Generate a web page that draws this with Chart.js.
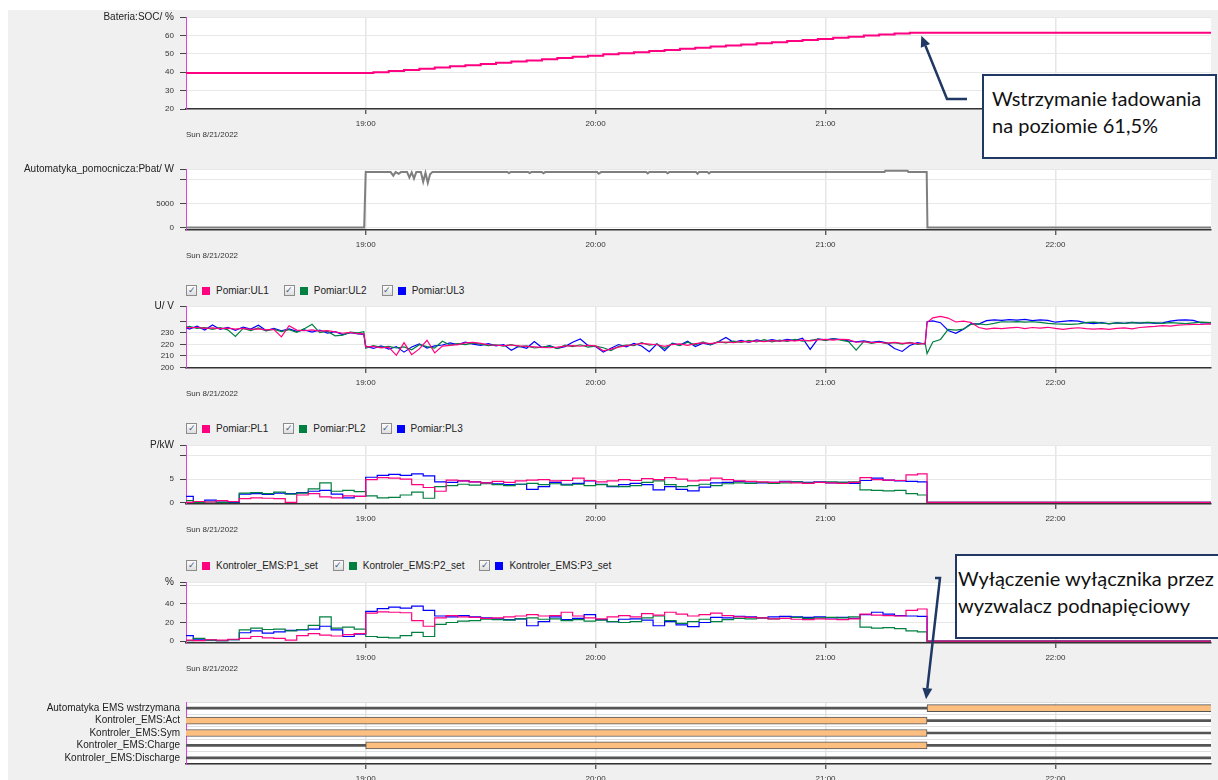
<!DOCTYPE html>
<html>
<head>
<meta charset="utf-8">
<script src="https://cdn.jsdelivr.net/npm/chart.js@4/dist/chart.umd.min.js"></script>
<style>
  body { margin: 0; width: 1218px; height: 780px; overflow: hidden; background: #fff; position: relative; font-family: 'Liberation Sans', Arial, sans-serif; }
  #panel { position: absolute; left: 8px; top: 10px; width: 1210px; height: 770px; background: #f0f0f0; }
  canvas.plot { position: absolute; left: 0; }
  .legend { position: absolute; left: 186px; display: flex; align-items: center; font-size: 10px; color: #222; white-space: nowrap; }
  .legend .cb { width: 9px; height: 9px; border: 1px solid #8c8c8c; background: linear-gradient(#fdfdfd, #dedede); color: #46598a; font-size: 9px; line-height: 9px; text-align: center; margin-right: 5px; }
  .legend .sq { width: 8px; height: 8px; margin-right: 6px; }
  .legend .name { margin-right: 15px; }
  #arrows { position: absolute; left: 0; top: 0; }
  .note { position: absolute; box-sizing: border-box; background: #fff; border: 2.5px solid #203864; font-family: Lato, 'Open Sans', sans-serif; font-size: 20px; line-height: 27px; color: #111; white-space: nowrap; }
  .note .just { text-align: justify; text-align-last: justify; }
</style>
</head>
<body>
<div id="panel"></div>
<script>
const FONT = "'Liberation Sans', Arial, sans-serif";
const seriesColors = ['#ff0080', '#008040', '#0000ff'];

// time axis, minutes after 18:00
const xMin = 13.1, xMax = 280.6;
const hourTicks = [60, 120, 180, 240];
const hourLabels = ['19:00', '20:00', '21:00', '22:00'];
const dateLabel = 'Sun 8/21/2022';

// Bateria:SOC
const socT = [13, 60, 62, 66, 70, 74, 78, 82, 86, 90, 94, 98, 102, 106, 110, 114, 118, 122, 126, 130, 134, 138,
  142, 146, 150, 154, 158, 162, 166, 170, 174, 178, 182, 186, 190, 194, 198, 202, 206, 281];
const socV = [39.6, 39.6, 40.0, 40.6, 41.2, 41.9, 42.5, 43.2, 43.8, 44.5, 45.1, 45.8, 46.4, 47.1, 47.7, 48.4, 49.0, 49.7, 50.3, 50.9, 51.5, 52.1,
  52.7, 53.3, 53.9, 54.5, 55.1, 55.7, 56.3, 56.9, 57.5, 58.1, 58.7, 59.3, 59.9, 60.5, 61.0, 61.5, 61.5, 61.5];
const socTicks = [20, 30, 40, 50, 60, 70];

// Automatyka_pomocnicza:Pbat
const pbT = [13, 59.6, 60, 66.5, 67.2, 67.8, 68.6, 69.2, 70.8, 71.4, 72.0, 72.6, 73.2, 74.4, 75.0, 75.6, 76.2, 76.8, 77.4,
  97.0, 97.4, 97.8, 102.4, 102.8, 103.2, 106.0, 106.4, 106.8, 120.4, 120.8, 121.4, 133.2, 133.6, 134.0,
  138.4, 138.8, 139.2, 146.2, 146.6, 147.0, 149.2, 149.6, 150.0, 195.4, 195.6, 201.4, 201.6, 206.4, 206.6, 281];
const pbV = [0, 0, 11650, 11650, 10900, 11650, 11300, 11650, 11650, 10500, 11600, 10300, 11650, 11650, 9600, 11500, 9400, 11200, 11650,
  11650, 11450, 11650, 11650, 11450, 11650, 11650, 11400, 11650, 11650, 11300, 11650, 11650, 11350, 11650,
  11650, 11400, 11650, 11650, 11300, 11650, 11650, 11350, 11650, 11650, 11950, 11950, 11650, 11650, 0, 0];
const pbTicks = [0, 5000, 10000, 12300];

// Pomiar:UL1..UL3
const uT = [12, 14, 16, 18, 20, 22, 24, 26, 28, 30, 32, 34, 36, 38, 40, 42, 44, 46, 48, 50, 52, 54, 56, 58, 59.5,
  60, 62, 64, 66, 68, 70, 72, 74, 76, 78,
  80, 82, 84, 86, 88, 90, 92, 94, 96, 98,
  100, 102, 104, 106, 108, 110, 112, 114, 116, 118,
  120, 122, 124, 126, 128, 130, 132, 134, 136, 138,
  140, 142, 144, 146, 148, 150, 152, 154, 156, 158,
  160, 162, 164, 166, 168, 170, 172, 174, 176, 178,
  180, 182, 184, 186, 188, 190, 192, 194, 196, 198,
  200, 202, 204, 206,
  206.5, 208, 210, 212, 214, 216, 218, 220, 222, 224, 226,
  228, 230, 232, 234, 236, 238, 240, 242, 244, 246,
  248, 250, 252, 254, 256, 258, 260, 262, 264, 266,
  268, 270, 272, 274, 276, 278, 280, 282];
const ul1 = [235.0, 234.4, 234.8, 233.9, 234.3, 233.6, 234.1, 233.2, 233.8, 232.9, 233.4, 232.6, 233.0, 226.5, 236.2, 232.4, 231.8, 232.6, 231.5, 231.9, 230.8, 229.6, 230.4, 229.2, 229.0,
  217.8, 218.2, 216.9, 217.5, 210.4, 221.5, 211.0, 216.0, 223.5, 212.5,
  218.5, 219.0, 219.8, 221.2, 221.6, 220.8, 219.6, 219.2, 218.8, 219.4,
  218.6, 218.2, 217.8, 217.4, 217.0, 217.6, 218.4, 218.9, 218.3, 219.0,
  218.6, 214.4, 215.8, 217.6, 218.9, 219.6, 220.8, 220.2, 219.6, 218.2,
  219.8, 220.4, 219.0, 220.6, 221.2, 220.6, 221.6, 222.0, 221.4, 222.6,
  222.2, 223.0, 222.4, 223.2, 222.8, 223.4, 222.9, 223.6, 223.0, 223.8,
  224.2, 223.6, 224.4, 224.0, 221.8, 222.2, 221.4, 221.8, 221.0, 221.6,
  220.8, 221.2, 220.6, 220.4,
  239.0, 243.0, 244.2, 242.8, 239.4, 240.2, 239.0, 234.6, 233.2, 234.0, 233.6,
  234.2, 234.8, 233.6, 234.6, 234.0, 234.8, 233.8, 233.0, 233.8, 234.4,
  233.6, 233.2, 233.6, 233.0, 233.8, 234.2, 233.4, 234.6, 235.2, 235.6,
  236.2, 235.8, 236.6, 237.0, 237.4, 237.2, 237.8, 237.0];
const ul2 = [234.2, 235.6, 233.8, 234.6, 233.0, 234.4, 232.6, 226.8, 233.8, 232.0, 234.2, 231.6, 233.2, 231.0, 232.8, 230.4, 233.6, 237.4, 230.2, 231.4, 227.4, 228.0, 230.6, 230.0, 231.0,
  216.6, 218.8, 217.4, 218.2, 216.8, 217.8, 215.2, 219.6, 218.0, 216.8,
  222.6, 219.4, 220.6, 219.8, 221.0, 220.2, 218.8, 219.6, 218.4, 219.8,
  217.8, 218.6, 216.8, 217.6, 218.4, 216.2, 219.2, 218.0, 219.6, 217.6,
  218.4, 217.0, 214.6, 218.2, 219.4, 218.8, 221.4, 219.2, 220.2, 216.4,
  220.6, 218.8, 221.8, 219.6, 222.0, 219.8, 222.4, 221.2, 222.8, 221.6,
  223.4, 222.0, 224.0, 222.2, 223.6, 222.6, 224.2, 222.8, 223.4, 224.6,
  223.2, 224.8, 223.6, 222.4, 215.0, 222.6, 220.8, 222.0, 220.6, 221.4,
  220.2, 221.6, 220.0, 221.0,
  212.0, 222.0, 224.2, 233.0, 232.4, 233.2, 237.4, 237.8, 237.0, 238.2, 239.6,
  239.4, 239.8, 239.2, 239.6, 239.0, 238.2, 237.8, 237.6, 237.4, 237.8,
  238.8, 239.2, 238.4, 238.0, 238.6, 238.2, 238.8, 238.4, 239.0, 238.6,
  238.2, 238.8, 238.4, 238.0, 238.6, 239.2, 238.8, 239.0];
const ul3 = [236.4, 233.2, 235.8, 232.4, 236.8, 233.0, 234.8, 232.2, 235.0, 233.2, 236.6, 232.0, 233.8, 231.8, 233.4, 231.2, 232.6, 230.6, 232.4, 229.8, 231.0, 228.4, 230.2, 229.0, 228.6,
  218.4, 216.4, 218.6, 215.8, 218.0, 213.2, 217.6, 220.4, 216.8, 218.6,
  219.4, 221.2, 219.8, 221.8, 220.2, 219.0, 220.6, 218.6, 219.8, 214.8,
  218.4, 216.6, 222.4, 217.2, 218.8, 216.4, 218.0, 221.8, 224.6, 219.0,
  218.0, 213.2, 216.6, 219.8, 217.8, 220.8, 218.6, 213.6, 220.4, 214.4,
  221.0, 219.4, 222.6, 218.0, 221.0, 219.6, 222.2, 226.0, 221.8, 223.4,
  221.6, 223.8, 222.6, 224.0, 222.8, 224.4, 223.2, 225.4, 215.6, 224.8,
  223.8, 225.0, 224.2, 223.0, 222.2, 223.0, 221.8, 222.6, 221.2, 216.4,
  213.8, 219.0, 221.4, 220.2,
  239.6, 240.4, 238.8, 232.0, 229.6, 233.2, 238.0, 237.6, 240.6, 241.2, 240.8,
  241.4, 241.0, 241.6, 240.6, 241.2, 240.8, 239.2, 240.0, 240.6, 240.2,
  238.6, 238.0, 238.8, 237.8, 238.6, 238.2, 239.0, 238.4, 238.8, 238.2,
  238.6, 240.2, 241.0, 241.2, 240.8, 238.6, 238.8, 238.4];
const ulTicks = [200, 210, 220, 230, 240, 253.3];

// Pomiar:PL1..PL3 and Kontroler_EMS:P1_set..P3_set share one time grid
const pT = [13,
  15, 18, 21, 24, 27, 30, 33, 36, 39, 42,
  45, 48, 51, 54, 57,
  60, 63, 66, 69, 72, 75, 78, 81, 84, 87,
  90, 93, 96, 99, 102, 105, 108, 111, 114, 117,
  120, 123, 126, 129, 132, 135, 138, 141, 144, 147,
  150, 153, 156, 159, 162, 165, 168, 171, 174, 177,
  180, 183, 186, 189, 192, 195, 198, 201, 204,
  206.5, 281];
const pl1 = [0.0,
  0.2, 0.1, 0.4, 0.2, 0.8, 1.0, 0.9, 0.8, 0.0, 1.6,
  1.9, 1.2, 1.0, 1.4, 1.3,
  4.9, 5.3, 5.2, 5.0, 3.8, 3.2, 2.4, 4.8, 4.6, 4.4,
  4.2, 4.5, 4.3, 4.6, 4.8, 4.9, 4.6, 4.7, 5.2, 4.7,
  4.4, 4.6, 4.9, 4.7, 5.1, 4.9, 5.3, 5.0, 4.6, 4.8,
  5.2, 4.9, 4.6, 4.5, 4.4, 4.3, 4.4, 4.2, 4.1, 4.3,
  4.2, 4.1, 4.3, 5.3, 4.9, 4.8, 4.7, 5.9, 6.1,
  0, 0];
const pl2 = [0.4,
  0.0, 0.1, 0.0, 0.1, 2.0, 2.1, 1.9, 2.2, 1.8, 2.0,
  2.9, 4.2, 2.4, 2.6, 2.3,
  1.4, 1.0, 1.1, 1.6, 2.2, 0.9, 3.4, 3.6, 3.9, 3.7,
  4.0, 3.8, 3.6, 3.9, 4.1, 3.8, 4.0, 3.7, 3.9, 3.6,
  3.8, 3.5, 3.4, 3.6, 4.3, 4.6, 3.8, 3.4, 3.6, 3.9,
  3.6, 4.0, 4.2, 4.1, 4.3, 4.1, 4.2, 4.4, 4.2, 4.3,
  4.4, 4.3, 4.4, 2.7, 2.6, 2.5, 2.6, 1.9, 1.6,
  0, 0];
const pl3 = [1.3,
  0.1, 0.5, 0.1, 0.0, 1.8, 1.9, 1.7, 2.0, 1.9, 2.1,
  2.4, 2.6, 1.8, 1.0, 1.3,
  5.4, 5.8, 6.0, 5.8, 6.1, 5.7, 4.4, 4.3, 4.6, 4.4,
  4.2, 4.0, 3.8, 3.9, 2.8, 3.4, 4.3, 3.9, 4.1, 4.6,
  3.9, 3.4, 3.8, 4.1, 3.8, 2.7, 3.4, 2.8, 2.5, 3.3,
  4.2, 4.3, 4.5, 4.4, 4.2, 4.3, 4.5, 4.4, 4.3, 4.4,
  4.2, 4.3, 4.1, 4.7, 5.2, 4.8, 4.6, 4.5, 4.4,
  0, 0];
const plTicks = [0, 5, 10, 12.3];

const ems1 = [1.0,
  0.5, 1.5, 1.0, 2.0, 3.0, 5.0, 3.5, 3.0, 1.0, 6.0,
  8.0, 6.5, 5.5, 7.0, 8.0,
  30.0, 31.5, 31.0, 30.5, 22.0, 16.0, 25.0, 27.5, 26.0, 25.5,
  24.5, 25.0, 26.0, 27.0, 28.5, 27.0, 27.5, 31.0, 27.0, 25.0,
  24.0, 26.0, 27.5, 26.0, 29.5, 28.0, 31.0, 29.0, 27.0, 28.5,
  30.0, 27.5, 26.0, 25.5, 25.0, 24.0, 24.5, 23.5, 23.0, 24.0,
  23.5, 23.0, 24.0, 29.0, 28.0, 27.5, 27.0, 33.0, 34.5,
  0, 0];
const ems2 = [0.5,
  3.0, 1.0, 0.5, 1.5, 12.0, 14.0, 12.5, 13.0, 11.0, 12.5,
  17.0, 26.0, 14.0, 15.0, 13.0,
  5.0, 4.0, 3.5, 6.0, 9.5, 5.0, 18.0, 20.0, 21.5, 22.0,
  23.5, 23.0, 22.5, 24.0, 25.0, 23.5, 24.0, 22.0, 23.0, 21.5,
  22.5, 21.0, 20.0, 21.0, 25.0, 27.0, 22.0, 19.0, 21.0, 23.5,
  21.0, 23.0, 24.5, 24.0, 25.0, 24.0, 24.5, 25.5, 24.5, 25.0,
  25.5, 25.0, 26.0, 15.0, 14.0, 14.5, 13.5, 11.0, 10.0,
  0, 0];
const ems3 = [6.0,
  2.0, 1.0, 0.5, 1.5, 9.0, 11.0, 8.5, 10.0, 11.5, 12.0,
  13.0, 16.0, 12.0, 5.0, 7.5,
  32.0, 35.0, 36.5, 35.5, 37.5, 33.0, 27.0, 26.0, 27.5, 26.0,
  25.0, 24.0, 23.0, 24.0, 16.5, 21.0, 26.0, 23.0, 24.5, 28.5,
  23.0, 21.0, 23.5, 24.0, 22.5, 16.5, 21.0, 17.5, 15.5, 20.0,
  25.5, 25.0, 26.5, 26.0, 25.0, 26.0, 26.5, 26.0, 25.5, 26.0,
  25.0, 25.5, 24.5, 28.5, 31.0, 29.0, 27.5, 27.0, 26.5,
  0, 0];
const emsTicks = [0, 20, 40, 60, 63.5];

// binary states, [start, end] in minutes
const stateLabels = ['Automatyka EMS wstrzymana', 'Kontroler_EMS:Act', 'Kontroler_EMS:Sym', 'Kontroler_EMS:Charge', 'Kontroler_EMS:Discharge'];
const stateOn = [[206.5, 290], [0, 206.5], [0, 206.5], [60, 206.5], null];
const stateOff = [[0, 290], [0, 290], [0, 290], [0, 290], [0, 290]];

const ulNames = ['Pomiar:UL1', 'Pomiar:UL2', 'Pomiar:UL3'];
const plNames = ['Pomiar:PL1', 'Pomiar:PL2', 'Pomiar:PL3'];
const emsNames = ['Kontroler_EMS:P1_set', 'Kontroler_EMS:P2_set', 'Kontroler_EMS:P3_set'];

const socTipTime = 205, socTipValue = 61.5, haltTime = 206.5;

const plotBg = {
    id: 'plotBg',
    beforeDraw(chart) {
        const { ctx, chartArea: a } = chart;
        ctx.save();
        ctx.fillStyle = '#fff';
        ctx.fillRect(a.left, a.top, a.width, a.height);
        ctx.restore();
    }
};

function makeCanvas(top, height) {
    const c = document.createElement('canvas');
    c.className = 'plot';
    c.width = 1218;
    c.height = height;
    c.style.top = top + 'px';
    document.body.appendChild(c);
    return c;
}

function xAxis(showDate) {
    return {
        type: 'linear', min: xMin, max: xMax,
        afterBuildTicks: s => { s.ticks = hourTicks.map(v => ({ value: v })); },
        afterFit: s => { s.height = 40; },
        ticks: {
            autoSkip: false, maxRotation: 0, padding: 5, color: '#333',
            font: { size: 8, family: FONT },
            callback: v => hourLabels[hourTicks.indexOf(v)]
        },
        grid: { color: '#e6e6e6', lineWidth: 1.5, tickLength: 5, tickColor: '#444', tickWidth: 1.2 },
        border: { color: '#333', width: 1.5 },
        title: {
            display: showDate, text: dateLabel, align: 'start', color: '#333',
            font: { size: 8, family: FONT }, padding: { top: 0, bottom: 9 }
        }
    };
}

function yAxis(min, max, ticks, title, blank) {
    return {
        type: 'linear', min: min, max: max,
        afterBuildTicks: s => { s.ticks = ticks.map(v => ({ value: v })); },
        afterFit: s => { s.width = 186; },
        ticks: {
            autoSkip: false, padding: 6,
            color: c => (c.tick && c.tick.value === max) ? '#222' : '#333',
            font: c => ({ size: (c.tick && c.tick.value === max) ? 10 : 8, family: FONT }),
            callback: v => v === max ? title : (blank.includes(v) ? '' : v)
        },
        grid: { color: '#e8e8e8', tickLength: 6, tickColor: '#444' },
        border: { color: '#e040e0', width: 1 }
    };
}

function lineSet(t, v, color, width, stepped) {
    return {
        data: t.map((x, i) => ({ x: x, y: v[i] })),
        borderColor: color, backgroundColor: color,
        borderWidth: width, pointRadius: 0, tension: 0, stepped: stepped
    };
}

function plotOptions(y, showDate) {
    return {
        responsive: false, animation: false, events: [],
        layout: { padding: { top: 10, right: 7, bottom: 0, left: 0 } },
        plugins: { legend: { display: false }, tooltip: { enabled: false } },
        scales: { x: xAxis(showDate), y: y }
    };
}

function makeLegend(top, names) {
    const div = document.createElement('div');
    div.className = 'legend';
    div.style.top = top + 'px';
    names.forEach((name, i) => {
        div.innerHTML += '<span class="cb">\u2713</span><span class="sq" style="background:' + seriesColors[i] + '"></span><span class="name">' + name + '</span>';
    });
    document.body.appendChild(div);
}

const socCanvas = makeCanvas(5, 144);
const socChart = new Chart(socCanvas, {
    type: 'line',
    data: { datasets: [lineSet(socT, socV, '#ff0080', 2, true)] },
    options: plotOptions(yAxis(20, 70, socTicks, 'Bateria:SOC/ %', []), true),
    plugins: [plotBg]
});

const pbCanvas = makeCanvas(157, 113);
new Chart(pbCanvas, {
    type: 'line',
    data: { datasets: [lineSet(pbT, pbV, '#7f7f7f', 2, false)] },
    options: plotOptions(yAxis(-550, 12300, pbTicks, 'Automatyka_pomocnicza:Pbat/ W', [10000]), true),
    plugins: [plotBg]
});

makeLegend(285, ulNames);
const ulCanvas = makeCanvas(294, 114);
new Chart(ulCanvas, {
    type: 'line',
    data: { datasets: [ul1, ul2, ul3].map((v, i) => lineSet(uT, v, seriesColors[i], 1.2, false)) },
    options: plotOptions(yAxis(199.4, 253.3, ulTicks, 'U/ V', [240]), true),
    plugins: [plotBg]
});

makeLegend(423, plNames);
const plCanvas = makeCanvas(433, 111);
new Chart(plCanvas, {
    type: 'line',
    data: { datasets: [pl1, pl2, pl3].map((v, i) => lineSet(pT, v, seriesColors[i], 1.2, true)) },
    options: plotOptions(yAxis(-0.33, 12.3, plTicks, 'P/kW', [10]), true),
    plugins: [plotBg]
});

makeLegend(560, emsNames);
const emsCanvas = makeCanvas(570, 113);
new Chart(emsCanvas, {
    type: 'line',
    data: { datasets: [ems1, ems2, ems3].map((v, i) => lineSet(pT, v, seriesColors[i], 1.2, true)) },
    options: plotOptions(yAxis(-2, 63.5, emsTicks, '%', [60]), true),
    plugins: [plotBg]
});

const stateTop = 690;
const stateCanvas = makeCanvas(stateTop, 114);
const stateOptions = plotOptions({
    type: 'category',
    afterFit: s => { s.width = 186; },
    ticks: { autoSkip: false, padding: 6, color: '#222', font: { size: 10, family: FONT } },
    grid: { color: '#dedede', offset: true, drawTicks: false },
    border: { color: '#e040e0', width: 1 }
}, false);
stateOptions.indexAxis = 'y';
const stateChart = new Chart(stateCanvas, {
    type: 'bar',
    data: {
        labels: stateLabels,
        datasets: [
            { data: stateOn, backgroundColor: '#fdbf80', borderColor: '#555', borderWidth: 1, barThickness: 7, grouped: false, borderSkipped: false },
            { data: stateOff, backgroundColor: '#555', barThickness: 2, grouped: false }
        ]
    },
    options: stateOptions,
    plugins: [plotBg]
});

// callout boxes and their arrows
const note1 = { left: 982, top: 74, width: 235, height: 85 };
const note2 = { left: 955, top: 554, width: 266, height: 85 };

const overlay = document.createElement('canvas');
overlay.id = 'arrows';
overlay.width = 1218;
overlay.height = 780;
document.body.appendChild(overlay);

function arrow(ctx, path, tip) {
    ctx.strokeStyle = '#203864';
    ctx.fillStyle = '#203864';
    ctx.lineWidth = 2.5;
    ctx.beginPath();
    ctx.moveTo(path[0][0], path[0][1]);
    path.slice(1).forEach(p => ctx.lineTo(p[0], p[1]));
    const last = path[path.length - 1];
    const ang = Math.atan2(tip.y - last[1], tip.x - last[0]);
    const hx = tip.x - 11 * Math.cos(ang), hy = tip.y - 11 * Math.sin(ang);
    ctx.lineTo(hx, hy);
    ctx.stroke();
    ctx.beginPath();
    ctx.moveTo(tip.x, tip.y);
    ctx.lineTo(hx + 5 * Math.sin(ang), hy - 5 * Math.cos(ang));
    ctx.lineTo(hx - 5 * Math.sin(ang), hy + 5 * Math.cos(ang));
    ctx.closePath();
    ctx.fill();
}

const actx = overlay.getContext('2d');
arrow(actx,
    [[note1.left - 15, note1.top + 25], [note1.left - 35, note1.top + 25]],
    { x: socChart.scales.x.getPixelForValue(socTipTime), y: 5 + socChart.scales.y.getPixelForValue(socTipValue) + 3 });
arrow(actx,
    [[note2.left - 20, note2.top + 24], [note2.left - 15, note2.top + 24]],
    { x: stateChart.scales.x.getPixelForValue(haltTime) - 1, y: stateTop + stateChart.scales.y.getPixelForValue(0) - 9 });

function makeNote(n, padLeft, lines) {
    const div = document.createElement('div');
    div.className = 'note';
    div.style.left = n.left + 'px';
    div.style.top = n.top + 'px';
    div.style.width = n.width + 'px';
    div.style.height = n.height + 'px';
    div.style.padding = '9px 0 0 ' + padLeft + 'px';
    div.innerHTML = lines;
    document.body.appendChild(div);
}

makeNote(note1, 8, '<div>Wstrzymanie ładowania</div><div>na poziomie 61,5%</div>');
makeNote(note2, 1, '<div class="just" style="width:254px">Wyłączenie wyłącznika przez</div><div>wyzwalacz podnapięciowy</div>');
</script>
</body>
</html>
